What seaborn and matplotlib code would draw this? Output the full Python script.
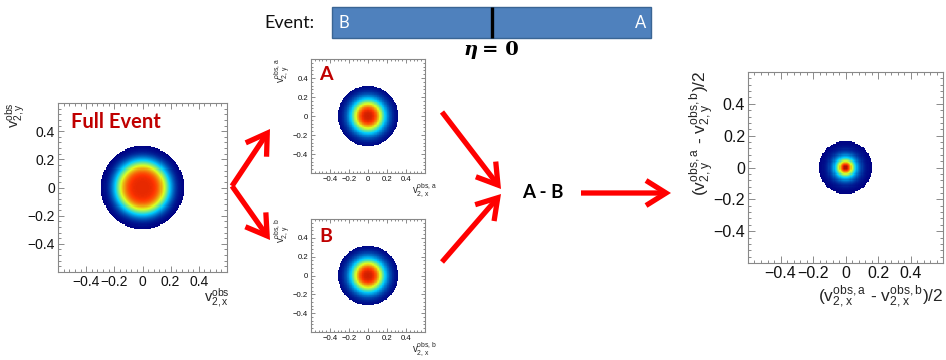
import numpy as np
import matplotlib
matplotlib.use('Agg')
import matplotlib.pyplot as plt
import seaborn as sns
from matplotlib.patches import Rectangle
from matplotlib.colors import LinearSegmentedColormap
from matplotlib.ticker import FixedLocator, MultipleLocator

# ---------------- data ----------------
axis_range = [-0.6, 0.6]
n_bins = 160
tick_values = [-0.4, -0.2, 0.0, 0.2, 0.4]
tick_labels = ['\u22120.4', '\u22120.2', '0', '0.2', '0.4']
panel_names = ['Full Event', 'A', 'B', 'A - B']
panel_sigma = [0.165, 0.140, 0.140, 0.042]   # radial width of each 2D distribution
panel_power = [4.0, 2.6, 2.6, 1.7]           # radial profile shape
panel_cut = [0.006, 0.015, 0.015, 0.006]     # lowest filled level (relative)
panel_zmax = [1.15, 1.11, 1.11, 1.05]        # colour-scale top (relative)
event_sides = ['B', 'A']

# ROOT-style rainbow palette (stops and colours)
pal_stops = [0.00, 0.34, 0.61, 0.84, 1.00]
pal_colors = [(0.00, 0.00, 0.51), (0.00, 0.81, 1.00), (0.87, 1.00, 0.12),
              (1.00, 0.20, 0.00), (0.51, 0.00, 0.00)]

# ---------------- style ----------------
sns.set_theme(style='white')
plt.rcParams['font.family'] = ['Liberation Sans', 'DejaVu Sans']
plt.rcParams['mathtext.default'] = 'regular'

W_PX, H_PX = 946, 360
fig = plt.figure(figsize=(W_PX / 100, H_PX / 100), dpi=100)


def frac(x0, y0, x1, y1):
    return [x0 / W_PX, 1 - y1 / H_PX, (x1 - x0) / W_PX, (y1 - y0) / H_PX]


edges = np.linspace(axis_range[0], axis_range[1], n_bins + 1)
centers = 0.5 * (edges[:-1] + edges[1:])
GX, GY = np.meshgrid(centers, centers)
R = np.hypot(GX, GY)
root_cmap = LinearSegmentedColormap.from_list('root_rainbow',
                                              list(zip(pal_stops, pal_colors)))


def panel(rect, idx, tick_fs, major_len, minor_len):
    ax = fig.add_axes(rect)
    w = np.exp(-0.5 * (R / panel_sigma[idx]) ** panel_power[idx])
    w[w < panel_cut[idx]] = 0.0
    sns.histplot(x=GX.ravel(), y=GY.ravel(), weights=w.ravel(), bins=list(edges),
                 cmap=root_cmap, vmin=0, vmax=panel_zmax[idx], ax=ax)
    ax.set_xlim(axis_range)
    ax.set_ylim(axis_range)
    ax.set_xlabel('')
    ax.set_ylabel('')
    for axis in (ax.xaxis, ax.yaxis):
        axis.set_major_locator(FixedLocator(tick_values))
        axis.set_minor_locator(MultipleLocator(0.04))
    ax.set_xticklabels(tick_labels)
    ax.set_yticklabels(tick_labels)
    ax.tick_params(which='both', direction='in', top=True, right=True,
                   bottom=True, left=True, colors='#777777',
                   labelcolor='#111111', width=0.6)
    ax.tick_params(which='major', length=major_len, labelsize=tick_fs, pad=2)
    ax.tick_params(which='minor', length=minor_len)
    for s in ax.spines.values():
        s.set_color('#888888')
        s.set_linewidth(0.8)
    return ax


ax_full = panel(frac(58, 103, 227, 272), 0, 10, 4, 2)
ax_a = panel(frac(311, 59, 425, 173), 1, 5.6, 2.8, 1.4)
ax_b = panel(frac(311, 219, 425, 332), 2, 5.6, 2.8, 1.4)
ax_d = panel(frac(748, 72, 943, 263), 3, 11.5, 5, 2.5)

# ---------------- overlay in pixel coordinates ----------------
ov = fig.add_axes([0, 0, 1, 1])
ov.set_xlim(0, W_PX)
ov.set_ylim(H_PX, 0)
ov.axis('off')
ov.patch.set_alpha(0)

red = '#ff0000'
dark_red = '#c00000'

# event bar
ov.add_patch(Rectangle((332, 7), 319, 31, facecolor='#4f81bd',
                       edgecolor='#3a6594', lw=1.0))
ov.plot([492, 492], [7, 38], color='black', lw=2.4, solid_capstyle='butt')
ov.text(314, 23, 'Event:', ha='right', va='center', fontsize=13,
        family='Lato', color='#111111')
ov.text(338, 23, event_sides[0], ha='left', va='center', fontsize=12,
        family='Lato', color='white')
ov.text(646, 23, event_sides[1], ha='right', va='center', fontsize=12,
        family='Lato', color='white')
ov.text(478, 50, '\u03b7', ha='right', va='center', fontsize=14,
        family='DejaVu Serif', fontweight='bold', style='italic', color='black')
ov.text(482, 50, '= 0', ha='left', va='center', fontsize=14,
        family='DejaVu Serif', fontweight='bold', color='black')

# panel titles
ov.text(71, 122, panel_names[0], ha='left', va='center', fontsize=14.5,
        family='Lato', fontweight='bold', color=dark_red)
ov.text(319, 75, panel_names[1], ha='left', va='center', fontsize=14,
        family='Lato', fontweight='bold', color=dark_red)
ov.text(319, 237, panel_names[2], ha='left', va='center', fontsize=14,
        family='Lato', fontweight='bold', color=dark_red)
ov.text(543, 192, panel_names[3], ha='center', va='center', fontsize=13.5,
        family='Lato', fontweight='bold', color='black')

# axis titles
ov.text(15, 102, r'v$_{2,y}^{obs}$', rotation=90, ha='center', va='top', fontsize=10.5)
ov.text(230, 287, r'v$_{2,x}^{obs}$', ha='right', va='top', fontsize=10.5)
ov.text(283, 58, r'v$_{2,y}^{obs,a}$', rotation=90, ha='center', va='top', fontsize=7)
ov.text(437, 182, r'v$_{2,x}^{obs,a}$', ha='right', va='top', fontsize=7)
ov.text(283, 218, r'v$_{2,y}^{obs,b}$', rotation=90, ha='center', va='top', fontsize=7)
ov.text(437, 341, r'v$_{2,x}^{obs,b}$', ha='right', va='top', fontsize=7)
ov.text(702, 71, r'(v$_{2,y}^{obs,a}$ - v$_{2,y}^{obs,b}$)/2', rotation=90,
        ha='center', va='top', fontsize=12.5)
ov.text(943, 284, r'(v$_{2,x}^{obs,a}$ - v$_{2,x}^{obs,b}$)/2',
        ha='right', va='top', fontsize=12.5)

# arrows
astyle = '->,head_length=1.2,head_width=0.75'


def arrow(p0, p1):
    ov.annotate('', xy=p1, xytext=p0,
                arrowprops=dict(arrowstyle=astyle, lw=3.8, color=red,
                                shrinkA=0, shrinkB=0, joinstyle='miter',
                                capstyle='butt'))


arrow((232, 186), (270, 129))
arrow((232, 186), (270, 240))
arrow((442, 112), (501, 189))
arrow((442, 262), (501, 194))
arrow((581, 193), (671, 193))

fig.savefig('out.png', dpi=100)
